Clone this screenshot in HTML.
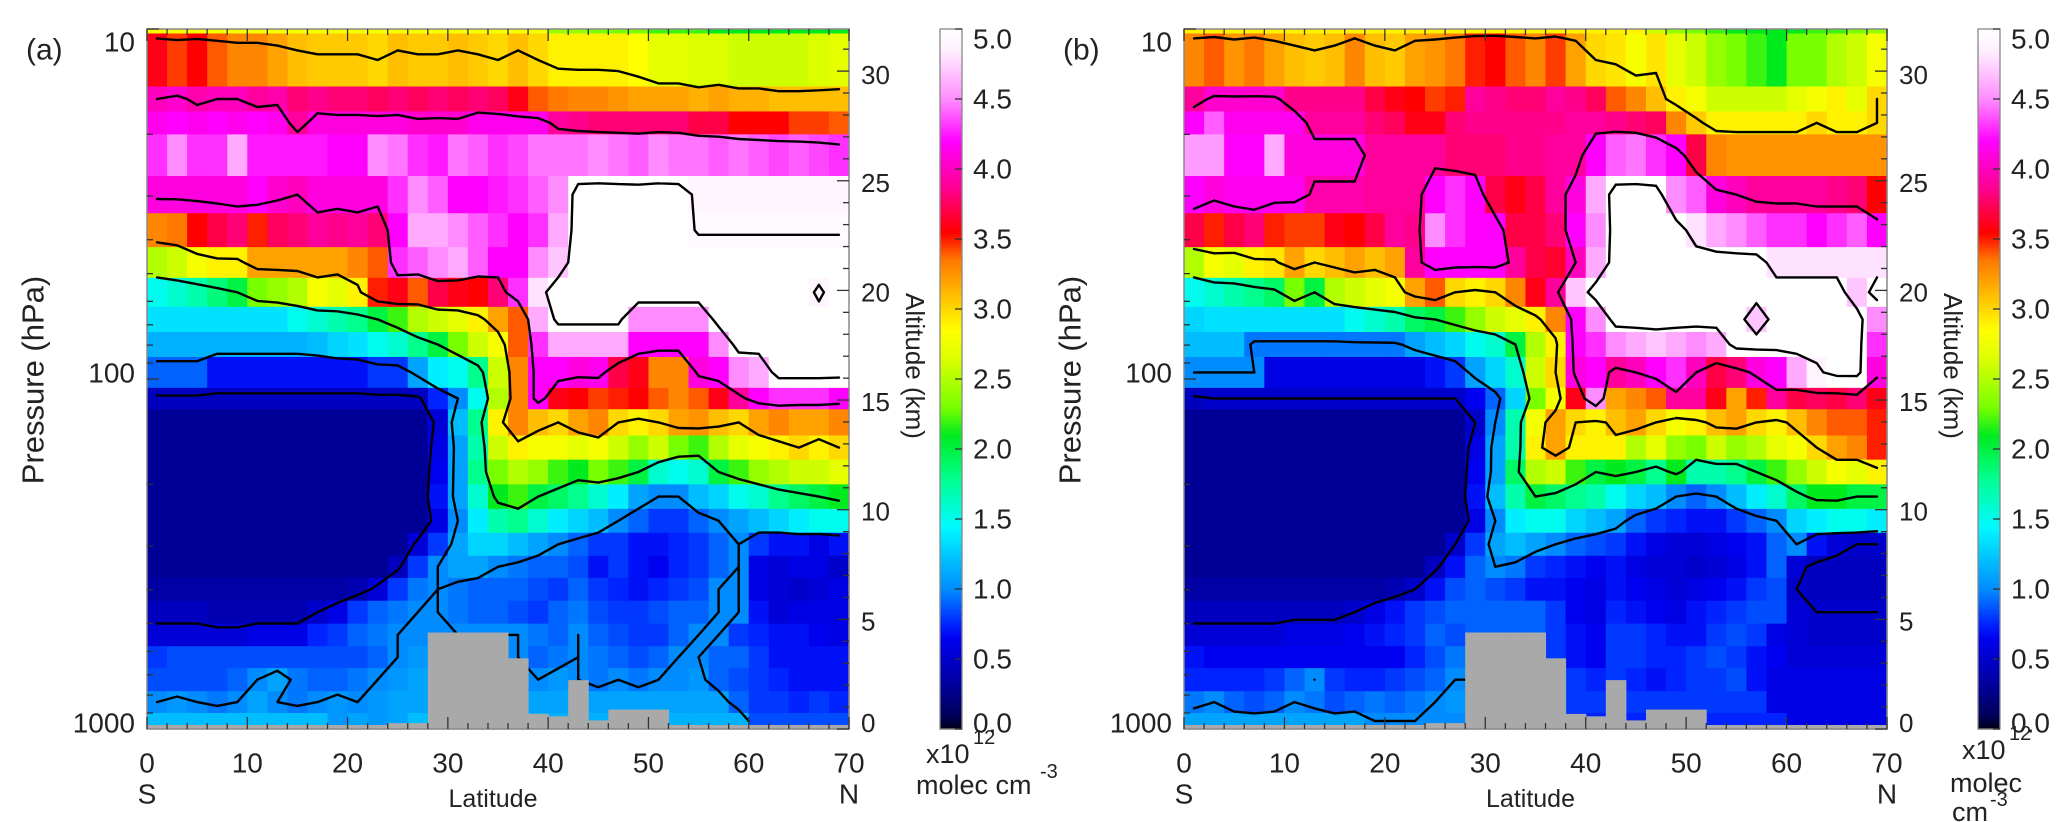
<!DOCTYPE html>
<html><head><meta charset="utf-8">
<style>
html,body{margin:0;padding:0;background:#fff;}
svg{display:block;font-family:"Liberation Sans",sans-serif;}
text{fill:#222;}
</style></head>
<body>
<svg id="fig" width="2067" height="822" viewBox="0 0 2067 822" xmlns="http://www.w3.org/2000/svg"></svg>
<script>
// ---- data ----
const latEdges = [0,2,4,6,8,10,12,14,16,18,20,22,24,26,28,30,32,34,36,38,40,42,44,46,48,50,52,54,56,58,60,62,64,66,68,70];
const pressureEdges = [10,10.3,14.6,17.2,20,26.3,33.6,42,51.4,62.2,73.4,86.5,106,122,145,170,200,235,275,320,370,430,500,580,670,780,900,1000];
const surfacePressure = [1000,1000,1000,1000,1000,1000,1000,1000,1000,992,988,988,962,962,530,530,530,530,628,905,920,725,945,880,880,880,985,985,985,985,985,985,985,985,985];
const contourLevels = [0.5,1,2,3,4,5];
const latTicks = [0,10,20,30,40,50,60,70];
const pressureTicks = [10,100,1000];
const altTicks = [0,5,10,15,20,25,30];
const cbTicks = [0,0.5,1,1.5,2,2.5,3,3.5,4,4.5,5];

const ozoneA = [
[2.8,2.8,2.8,2.8,2.8,2.8,2.8,2.8,2.8,2.8,2.8,2.8,2.8,2.8,2.8,2.8,2.8,2.8,2.8,2.8,2.4,2.4,2.3,2.3,2.3,2.2,2.2,2.2,2.1,2.1,2.1,2.1,2.1,2.1,2.1],
[3.6,3.45,3.55,3.4,3.3,3.3,3.2,3.1,3.05,3.05,3.05,3.0,3.1,3.05,3.05,3.1,3.05,3.0,3.1,3.0,2.9,2.9,2.9,2.9,2.85,2.7,2.7,2.65,2.65,2.6,2.6,2.6,2.6,2.65,2.7],
[4.0,4.05,3.95,4.0,4.0,3.9,3.95,3.8,3.85,3.8,3.8,3.75,3.8,3.75,3.8,3.75,3.8,3.75,3.6,3.4,3.35,3.3,3.3,3.25,3.2,3.2,3.2,3.15,3.2,3.15,3.15,3.1,3.1,3.1,3.1],
[4.15,4.2,4.15,4.2,4.15,4.2,4.15,3.9,4.1,4.1,4.1,4.1,4.1,4.05,4.05,4.05,4.15,4.15,4.15,4.15,3.9,3.85,3.8,3.8,3.8,3.8,3.8,3.7,3.7,3.55,3.55,3.55,3.45,3.45,3.4],
[4.3,4.5,4.3,4.3,4.6,4.25,4.25,4.25,4.25,4.2,4.2,4.5,4.45,4.3,4.25,4.45,4.4,4.3,4.35,4.45,4.45,4.45,4.5,4.45,4.4,4.5,4.45,4.45,4.4,4.45,4.4,4.35,4.4,4.35,4.3],
[4.1,4.1,4.1,4.1,4.1,4.2,4.05,4.0,4.1,4.1,4.1,4.1,4.3,4.5,4.4,4.2,4.2,4.25,4.3,4.4,4.5,5.2,5.2,5.2,5.2,5.2,5.2,4.9,4.9,4.9,4.9,4.9,4.9,4.9,4.9],
[3.3,3.35,3.55,3.7,3.8,3.5,3.75,3.8,3.9,3.85,3.9,3.8,4.2,4.6,4.6,4.5,4.4,4.3,4.2,4.3,4.6,5.2,5.2,5.2,5.2,5.2,5.2,4.95,4.95,4.95,4.95,4.95,4.95,4.95,4.95],
[2.5,2.6,2.8,2.9,2.9,3.2,3.2,3.2,3.2,3.2,3.3,3.4,4.3,4.4,4.5,4.6,4.4,4.2,4.2,4.5,4.7,5.3,5.3,5.3,5.3,5.3,5.3,5.3,5.3,5.3,5.3,5.3,5.3,5.3,5.3],
[1.5,1.6,1.7,1.85,2.0,2.3,2.4,2.5,2.8,2.7,2.9,3.5,3.6,3.4,3.7,3.6,3.55,3.8,4.3,4.8,5.3,5.3,5.3,5.3,5.3,5.3,5.3,5.3,5.3,5.3,5.3,5.3,5.3,4.9,5.3],
[1.35,1.35,1.35,1.35,1.35,1.35,1.35,1.5,1.6,1.7,1.8,2.0,2.2,2.5,2.6,2.7,2.9,3.2,3.4,4.6,5.1,5.1,5.1,5.1,4.5,4.5,4.5,4.5,5.2,5.2,5.2,5.2,5.2,5.2,5.2],
[1.15,1.15,1.15,1.15,1.15,1.15,1.15,1.15,1.2,1.3,1.35,1.5,1.6,1.8,2.0,2.3,2.6,2.8,3.4,4.3,4.6,4.6,4.6,4.6,4.2,4.2,4.2,4.2,4.5,5.2,5.2,5.2,5.2,5.2,5.2],
[0.9,0.9,0.9,0.7,0.7,0.7,0.7,0.7,0.7,0.7,0.7,0.8,0.8,1.1,1.4,1.5,1.8,2.6,3.3,4.2,4.2,4.1,4.15,3.7,3.6,3.3,3.3,4.1,4.2,4.5,4.6,5.2,5.2,5.2,5.2],
[0.45,0.45,0.45,0.45,0.45,0.45,0.45,0.45,0.45,0.45,0.45,0.45,0.45,0.45,0.75,1.0,1.5,2.5,3.3,4.2,3.6,3.55,3.45,3.5,3.55,3.4,3.3,3.4,3.6,3.9,4.2,4.3,4.3,4.3,4.2],
[0.3,0.3,0.3,0.3,0.3,0.3,0.3,0.3,0.3,0.3,0.3,0.3,0.3,0.3,0.55,1.2,1.8,2.9,3.3,3.1,3.0,3.2,3.3,3.0,2.9,3.0,3.2,3.25,3.1,3.0,3.2,3.3,3.2,3.2,3.3],
[0.3,0.3,0.3,0.3,0.3,0.3,0.3,0.3,0.3,0.3,0.3,0.3,0.3,0.3,0.6,1.1,1.7,2.6,2.9,2.8,2.8,2.7,2.8,2.6,2.4,2.6,2.3,2.2,2.5,2.7,2.8,2.9,3.0,2.9,3.0],
[0.3,0.3,0.3,0.3,0.3,0.3,0.3,0.3,0.3,0.3,0.3,0.3,0.3,0.3,0.65,1.1,1.8,2.3,2.5,2.4,2.2,2.1,2.3,2.2,2.0,1.6,1.5,1.6,2.0,2.2,2.4,2.5,2.6,2.6,2.7],
[0.3,0.3,0.3,0.3,0.3,0.3,0.3,0.3,0.3,0.3,0.3,0.3,0.3,0.3,0.7,1.1,1.6,2.1,2.2,2.0,1.9,1.8,1.6,1.4,1.1,1.0,1.0,1.2,1.3,1.5,1.6,1.8,1.9,2.0,2.1],
[0.3,0.3,0.3,0.3,0.3,0.3,0.3,0.3,0.3,0.3,0.3,0.3,0.3,0.3,0.6,1.0,1.4,1.7,1.8,1.6,1.4,1.3,1.2,1.0,0.9,0.8,0.8,0.9,1.0,1.1,1.2,1.3,1.4,1.5,1.5],
[0.3,0.3,0.3,0.3,0.3,0.3,0.3,0.3,0.3,0.3,0.3,0.3,0.3,0.55,0.8,1.1,1.3,1.3,1.2,1.1,1.0,0.9,0.8,0.8,0.7,0.7,0.75,0.8,0.9,1.0,0.8,0.7,0.7,0.6,0.7],
[0.3,0.3,0.3,0.3,0.3,0.3,0.3,0.3,0.3,0.3,0.3,0.3,0.45,0.8,1.0,1.1,1.1,1.0,0.95,0.9,0.9,0.85,0.7,0.8,0.7,0.65,0.75,0.8,0.9,1.0,0.6,0.55,0.6,0.6,0.5],
[0.35,0.35,0.35,0.35,0.35,0.35,0.35,0.35,0.35,0.35,0.4,0.55,0.8,0.95,1.0,0.95,0.9,0.9,0.9,0.85,0.8,0.9,0.8,0.75,0.7,0.75,0.8,0.85,1.0,1.0,0.6,0.55,0.5,0.55,0.6],
[0.45,0.45,0.45,0.4,0.4,0.4,0.4,0.4,0.5,0.6,0.8,0.9,0.95,1.0,1.0,0.95,0.9,0.9,0.85,0.8,0.9,0.95,0.85,0.8,0.8,0.85,0.9,0.9,1.0,1.0,0.7,0.55,0.6,0.6,0.6],
[0.55,0.55,0.55,0.55,0.55,0.6,0.6,0.6,0.75,0.8,0.9,0.95,1.0,1.0,1.0,1.0,1.0,1.0,1.0,0.95,0.9,1.0,0.9,0.85,0.8,0.8,0.9,1.0,1.0,0.8,0.75,0.7,0.7,0.65,0.6],
[0.8,0.85,0.85,0.85,0.85,0.85,0.85,0.85,0.85,0.85,0.85,0.9,1.0,1.05,1.05,1.05,1.05,1.05,1.0,0.9,0.95,1.0,0.95,0.9,0.85,0.9,1.0,1.0,0.9,0.9,0.8,0.7,0.7,0.7,0.7],
[0.85,0.85,0.85,0.85,0.9,1.0,1.1,0.95,0.9,0.9,0.95,1.0,1.05,1.1,1.1,1.1,1.1,1.1,1.05,1.0,1.05,1.0,0.95,1.0,0.95,1.0,1.0,1.05,0.9,0.85,0.8,0.75,0.7,0.7,0.7],
[1.0,1.05,1.0,0.95,1.0,1.1,1.0,0.95,1.0,1.05,1.0,1.05,1.1,1.1,1.1,1.1,1.1,1.1,1.1,1.1,1.1,1.1,1.1,1.1,1.1,1.1,1.1,1.1,1.1,0.9,0.8,0.8,0.75,0.8,0.75],
[1.2,1.2,1.2,1.2,1.2,1.2,1.2,1.2,1.2,1.05,1.1,1.05,1.1,1.2,1.15,1.15,1.15,1.15,1.15,1.15,1.15,1.15,1.15,1.15,1.15,1.15,1.15,1.15,1.15,1.15,0.85,0.85,0.85,0.85,0.85]
];

const ozoneB = [
[2.9,2.9,2.9,2.9,2.9,2.9,2.9,2.9,2.9,2.9,2.9,2.9,2.9,2.9,2.9,2.9,2.9,2.9,2.9,2.9,2.9,2.9,2.9,2.6,2.4,2.3,2.2,2.1,2.1,2.1,2.1,2.2,2.2,2.3,2.4],
[3.3,3.4,3.25,3.35,3.2,3.1,3.05,3.1,3.3,3.1,3.05,3.2,3.25,3.35,3.5,3.55,3.4,3.3,3.45,3.2,3.0,2.95,2.8,2.95,2.7,2.6,2.4,2.3,2.2,2.1,2.3,2.3,2.5,2.6,2.8],
[3.9,4.05,4.05,4.05,4.05,3.85,3.85,3.85,3.85,3.7,3.6,3.55,3.45,3.5,3.9,3.85,3.8,3.8,3.9,3.85,3.75,3.4,3.3,3.1,2.9,2.8,2.6,2.6,2.6,2.6,2.7,2.8,2.9,2.7,3.0],
[4.2,4.4,4.15,4.15,4.15,4.15,3.9,3.9,3.9,3.8,3.75,3.6,3.6,3.8,3.85,3.85,3.85,3.85,3.85,3.9,3.9,3.85,3.8,3.75,3.3,3.05,2.9,2.9,2.9,2.9,2.9,3.0,2.9,2.9,3.0],
[4.55,4.55,4.2,4.2,4.6,4.1,4.1,4.1,4.1,3.9,3.9,3.9,3.9,3.8,3.8,3.8,3.85,3.85,3.9,3.9,4.2,4.4,4.45,4.3,4.2,3.7,3.3,3.25,3.25,3.25,3.25,3.25,3.25,3.25,3.25],
[4.2,4.1,4.15,4.15,4.15,4.15,3.95,3.95,3.95,3.9,3.9,3.9,4.2,4.3,4.2,3.7,3.6,3.7,3.9,4.1,4.6,5.2,5.2,5.2,4.5,4.4,4.1,4.0,3.9,3.9,3.9,3.9,3.85,3.8,3.55],
[3.7,3.5,3.7,3.8,3.5,3.45,3.45,3.6,3.55,3.7,3.9,3.85,4.5,4.3,4.2,4.2,3.7,3.7,3.8,4.2,4.5,5.2,5.2,5.2,5.2,4.8,4.6,4.5,4.4,4.3,4.3,4.2,4.3,4.4,4.2],
[2.5,2.8,2.7,2.9,2.95,3.2,3.0,3.1,3.2,3.1,3.2,3.9,4.2,4.2,4.2,4.2,3.9,3.7,3.65,4.0,4.6,5.2,5.2,5.2,5.2,5.2,5.2,5.2,5.2,4.8,4.8,4.8,4.8,4.8,4.8],
[1.5,1.6,1.7,1.8,1.9,2.3,2.0,2.5,2.6,2.7,2.8,3.2,3.4,3.0,2.9,3.0,3.3,3.6,3.9,4.7,5.2,5.2,5.2,5.2,5.2,5.2,5.2,5.2,5.2,5.2,5.2,5.2,5.2,4.7,5.2],
[1.3,1.35,1.35,1.35,1.35,1.35,1.35,1.35,1.5,1.6,1.7,1.9,2.0,2.2,2.4,2.6,2.7,2.9,3.3,4.2,4.5,5.2,5.2,5.2,5.2,5.2,5.2,5.2,4.7,5.2,5.2,5.2,5.2,5.2,4.5],
[1.2,1.2,1.2,0.95,0.95,0.95,0.95,0.95,0.95,0.95,0.95,1.1,1.2,1.3,1.5,1.6,2.0,2.5,2.9,4.2,4.3,4.5,4.6,4.7,4.6,4.5,4.6,5.2,5.2,5.2,5.2,5.2,5.2,5.2,4.3],
[1.0,1.0,1.0,1.0,0.6,0.6,0.6,0.6,0.6,0.6,0.6,0.6,0.7,0.8,1.1,1.3,1.6,2.6,3.0,4.1,4.2,3.9,4.0,4.2,4.3,4.0,3.7,3.8,4.1,4.2,4.6,4.9,5.2,5.2,4.1],
[0.45,0.5,0.5,0.5,0.5,0.5,0.5,0.5,0.5,0.5,0.5,0.5,0.5,0.5,0.65,0.9,1.3,2.3,2.8,3.6,4.5,3.2,3.3,3.4,3.9,3.9,3.6,3.2,3.5,3.9,3.7,3.75,3.7,3.8,3.6],
[0.3,0.3,0.3,0.3,0.3,0.3,0.3,0.3,0.3,0.3,0.3,0.3,0.3,0.3,0.5,1.0,1.7,2.8,3.2,3.0,2.9,3.1,3.2,3.0,2.8,2.9,3.1,3.2,3.0,2.9,3.1,3.3,3.4,3.4,3.5],
[0.3,0.3,0.3,0.3,0.3,0.3,0.3,0.3,0.3,0.3,0.3,0.3,0.3,0.3,0.6,1.1,1.7,2.9,3.2,2.9,2.9,2.9,2.5,2.7,2.4,2.3,2.6,2.4,2.5,2.7,2.8,3.0,3.2,3.3,3.5],
[0.3,0.3,0.3,0.3,0.3,0.3,0.3,0.3,0.3,0.3,0.3,0.3,0.3,0.3,0.65,1.1,1.9,2.5,2.6,2.2,2.0,2.1,2.0,1.8,2.1,1.7,1.7,1.8,2.0,2.2,2.4,2.6,2.8,2.7,2.9],
[0.3,0.3,0.3,0.3,0.3,0.3,0.3,0.3,0.3,0.3,0.3,0.3,0.3,0.3,0.7,1.2,1.7,2.0,1.9,1.8,1.7,1.5,1.3,1.2,1.0,0.9,1.0,1.2,1.4,1.6,1.9,2.1,2.1,2.0,2.0],
[0.3,0.3,0.3,0.3,0.3,0.3,0.3,0.3,0.3,0.3,0.3,0.3,0.3,0.3,0.6,1.0,1.4,1.5,1.5,1.3,1.2,1.1,0.9,0.8,0.75,0.7,0.7,0.8,0.9,1.0,1.3,1.4,1.5,1.5,1.4],
[0.3,0.3,0.3,0.3,0.3,0.3,0.3,0.3,0.3,0.3,0.3,0.3,0.3,0.5,0.8,1.1,1.2,1.1,1.0,0.9,0.85,0.8,0.7,0.6,0.55,0.55,0.6,0.65,0.7,0.9,1.0,0.7,0.55,0.5,0.5],
[0.3,0.3,0.3,0.3,0.3,0.3,0.3,0.3,0.3,0.3,0.3,0.3,0.45,0.7,0.9,1.0,0.95,0.8,0.75,0.7,0.65,0.7,0.6,0.55,0.55,0.5,0.55,0.6,0.7,0.9,0.55,0.45,0.45,0.45,0.45],
[0.35,0.35,0.35,0.35,0.35,0.35,0.35,0.35,0.35,0.35,0.4,0.5,0.7,0.85,0.9,0.85,0.8,0.7,0.7,0.65,0.6,0.7,0.65,0.6,0.55,0.6,0.65,0.7,0.8,0.85,0.5,0.45,0.45,0.45,0.45],
[0.45,0.45,0.45,0.45,0.45,0.45,0.45,0.45,0.5,0.6,0.7,0.8,0.85,0.9,0.9,0.9,0.9,0.9,0.8,0.65,0.6,0.75,0.7,0.65,0.6,0.7,0.75,0.8,0.85,0.85,0.55,0.5,0.5,0.5,0.5],
[0.55,0.55,0.55,0.55,0.55,0.6,0.6,0.6,0.65,0.7,0.75,0.8,0.9,0.85,0.9,0.9,0.9,0.9,0.8,0.7,0.65,0.8,0.8,0.75,0.7,0.7,0.8,0.85,0.8,0.6,0.55,0.5,0.5,0.5,0.5],
[0.7,0.65,0.65,0.65,0.65,0.65,0.65,0.65,0.65,0.65,0.65,0.75,0.85,0.95,0.95,0.95,0.95,0.95,0.8,0.7,0.65,0.8,0.8,0.75,0.75,0.8,0.85,0.8,0.7,0.65,0.55,0.55,0.55,0.55,0.55],
[0.75,0.75,0.75,0.75,0.8,0.9,1.0,0.8,0.75,0.75,0.8,0.85,0.9,1.0,1.0,1.0,1.0,1.0,0.9,0.8,0.75,0.8,0.75,0.7,0.75,0.8,0.8,0.85,0.7,0.6,0.6,0.6,0.6,0.6,0.6],
[0.95,1.0,0.9,0.85,0.9,1.0,0.95,0.85,0.9,0.95,0.9,0.95,1.0,1.05,1.0,1.0,1.0,1.0,1.0,0.8,0.8,0.8,0.8,0.8,0.8,0.8,0.8,0.8,0.8,0.6,0.6,0.6,0.6,0.6,0.6],
[1.1,1.1,1.1,1.1,1.1,1.1,1.1,1.1,1.1,1.0,1.0,1.0,1.0,1.0,1.0,1.0,1.0,1.0,1.0,0.75,0.75,0.75,0.75,0.75,0.75,0.75,0.75,0.75,0.75,0.75,0.6,0.6,0.6,0.6,0.6]
];

// ---- colormap ----
const cmapStops = [[0,0,0,20],[0.1,0,0,90],[0.35,0,0,165],[0.65,0,0,240],[0.75,0,35,255],[1.0,0,140,255],[1.45,0,250,255],[1.8,0,255,140],[2.1,0,235,30],[2.3,120,255,0],[2.65,220,255,0],[2.85,255,255,0],[3.1,255,190,0],[3.35,255,120,0],[3.55,255,0,0],[3.85,255,0,140],[4.2,255,0,255],[4.5,255,140,255],[4.85,255,240,255],[5.0,255,255,255]];
function cmap(v){
  if(v<=0) return 'rgb(0,0,20)';
  if(v>=5) return 'rgb(255,255,255)';
  for(let i=1;i<cmapStops.length;i++){
    const a=cmapStops[i-1],b=cmapStops[i];
    if(v<=b[0]){const t=(v-a[0])/(b[0]-a[0]);
      return 'rgb('+Math.round(a[1]+t*(b[1]-a[1]))+','+Math.round(a[2]+t*(b[2]-a[2]))+','+Math.round(a[3]+t*(b[3]-a[3]))+')';}
  }
  return '#fff';
}

const NS='http://www.w3.org/2000/svg';
const svg=document.getElementById('fig');
function mk(tag,attrs,parent){const e=document.createElementNS(NS,tag);for(const k in attrs)e.setAttribute(k,attrs[k]);(parent||svg).appendChild(e);return e;}
function txt(s,x,y,size,anchor,parent,extra){const t=mk('text',Object.assign({x:x,y:y,'font-size':size,'text-anchor':anchor||'middle','dominant-baseline':'central'},extra||{}),parent);t.textContent=s;return t;}

const Y0=29,Y1=729;
function drawPanel(data,X0,X1,label,cbX,tag){
  const W=X1-X0,H=Y1-Y0;
  const xS=lat=>X0+lat/70*W;
  const yS=p=>Y0+(Math.log10(p)-1)/2*H;
  const altY=km=>Y1-km*21.93;
  const g=mk('g',{});
  
  
  const cells=mk('g',{},g);
  
  
  for(let r=0;r<data.length;r++){
    const ya=yS(pressureEdges[r]),yb=yS(pressureEdges[r+1]);
    for(let c=0;c<data[r].length;c++){
      const xa=xS(latEdges[c]),xb=xS(latEdges[c+1]);
      const rc=mk('rect',{x:xa.toFixed(2),y:ya.toFixed(2),width:(xb-xa+0.6).toFixed(2),height:(yb-ya+0.6).toFixed(2),fill:cmap(data[r][c])},cells);
      
      
    }
  }
  const cx=[],cy=[];
  for(let c=0;c<latEdges.length-1;c++)cx.push(xS((latEdges[c]+latEdges[c+1])/2));
  for(let r=0;r<pressureEdges.length-1;r++)cy.push(yS(Math.sqrt(pressureEdges[r]*pressureEdges[r+1])));
  const cg=mk('g',{fill:'none',stroke:'#000','stroke-width':2.4,'stroke-linejoin':'round','stroke-linecap':'round'},g);
  
  
  contourLevels.forEach(L=>{
    let d='';
    for(let r=0;r<cy.length-1;r++)for(let c=0;c<cx.length-1;c++){
      const v=[data[r][c],data[r][c+1],data[r+1][c+1],data[r+1][c]];
      const P=[[cx[c],cy[r]],[cx[c+1],cy[r]],[cx[c+1],cy[r+1]],[cx[c],cy[r+1]]];
      const pts=[];
      for(let e=0;e<4;e++){const a=v[e],b=v[(e+1)%4];
        if((a<L)!==(b<L)){const t=(L-a)/(b-a);const A=P[e],B=P[(e+1)%4];pts.push([A[0]+t*(B[0]-A[0]),A[1]+t*(B[1]-A[1])]);}}
      for(let k=0;k+1<pts.length;k+=2)d+='M'+pts[k][0].toFixed(1)+' '+pts[k][1].toFixed(1)+'L'+pts[k+1][0].toFixed(1)+' '+pts[k+1][1].toFixed(1);
    }
    if(d){const p=mk('path',{d:d},cg);
      
      }
  });
  const tg=mk('g',{fill:'#a9a9a9'},g);
  
  
  surfacePressure.forEach((ps,c)=>{
    if(ps<1000){const xa=xS(latEdges[c]),xb=xS(latEdges[c+1]);const y=yS(ps);
      mk('rect',{x:xa.toFixed(2),y:y.toFixed(2),width:(xb-xa+0.5).toFixed(2),height:(Y1-y).toFixed(2)},tg);}
  });
  mk('rect',{x:X0,y:Y1-4,width:W,height:4,fill:'#a9a9a9'},tg);
  const fr=mk('rect',{x:X0,y:Y0,width:W,height:H,fill:'none',stroke:'#888','stroke-width':1.5},g);
  
  
  const tk=mk('g',{stroke:'#333','stroke-width':1.3},g);
  for(let lat=0;lat<=70;lat+=2){const x=xS(lat),len=(lat%10===0)?12:6;
    mk('line',{x1:x,y1:Y1,x2:x,y2:Y1-len},tk);mk('line',{x1:x,y1:Y0,x2:x,y2:Y0+len},tk);}
  [10,100].forEach(base=>{for(let m=1;m<=9;m++){const y=yS(base*m);const len=m===1?12:6;mk('line',{x1:X0,y1:y,x2:X0+len,y2:y},tk);}});
  for(let km=0;km<=31;km++){const y=altY(km);const len=km%5===0?12:6;mk('line',{x1:X1,y1:y,x2:X1-len,y2:y},tk);}
  const axl=mk('g',{},g);
  
  
  pressureTicks.forEach(p=>{const y=p===10?Y0+13:yS(p)-6;const t=txt(String(p),X0-12,y,28,'end',axl);
    });
  latTicks.forEach(l=>{const t=txt(String(l),xS(l),763,28,'middle',axl);
    });
  txt('S',X0,794,28,'middle',axl);
  txt('N',X1,794,28,'middle',axl);
  const lt=txt('Latitude',(X0+X1)/2-5,799,25,'middle',axl);
  
  altTicks.forEach(k=>{const y=k===30?altY(k)+4:(k===0?altY(k)-6:altY(k)+2);const t=txt(String(k),X1+12,y,26,'start',axl);
    });
  const pt=txt('Pressure (hPa)',0,0,31,'middle',axl,{transform:'translate('+(X0-114)+',380) rotate(-90)'});
  
  const at=txt('Altitude (km)',0,0,26,'middle',axl,{transform:'translate('+(X1+66)+',366) rotate(90)'});
  
  const pl=txt(label,X0-121,50,30,'start',axl);
  
  const cb=mk('g',{},g);
  
  
  const cbW=22,N=250;
  for(let i=0;i<N;i++){const v=(i+0.5)/N*5;const y=Y1-(i+1)/N*H;
    mk('rect',{x:cbX,y:y.toFixed(2),width:cbW,height:(H/N+0.6).toFixed(2),fill:cmap(v)},cb);}
  mk('rect',{x:cbX,y:Y0,width:cbW,height:H,fill:'none',stroke:'#888','stroke-width':1.3},cb);
  cbTicks.forEach(v=>{const y=Y1-v/5*H;mk('line',{x1:cbX+cbW,y1:y,x2:cbX+cbW-7,y2:y,stroke:'#333','stroke-width':1.3},cb);
    const ty=v===5?y+10:(v===0?y-6:y);const t=txt(v.toFixed(1),cbX+cbW+11,ty,28,'start',cb);
    });
  return {cb:cb};
}
const pa=drawPanel(ozoneA,147,849,'(a)',940,'panel-a');
const pb=drawPanel(ozoneB,1184,1887,'(b)',1978,'panel-b');
let u=txt('x10',926,754,27,'start',pa.cb);

txt('12',973,738,20,'start',pa.cb);
u=txt('molec cm',916,785,27,'start',pa.cb);

txt('-3',1040,772,20,'start',pa.cb);
u=txt('x10',1962,750,27,'start',pb.cb);

txt('12',2009,734,20,'start',pb.cb);
u=txt('molec',1950,783,27,'start',pb.cb);

txt('cm',1952,812,27,'start',pb.cb);
txt('-3',1990,800,20,'start',pb.cb);
</script>
</body></html>
